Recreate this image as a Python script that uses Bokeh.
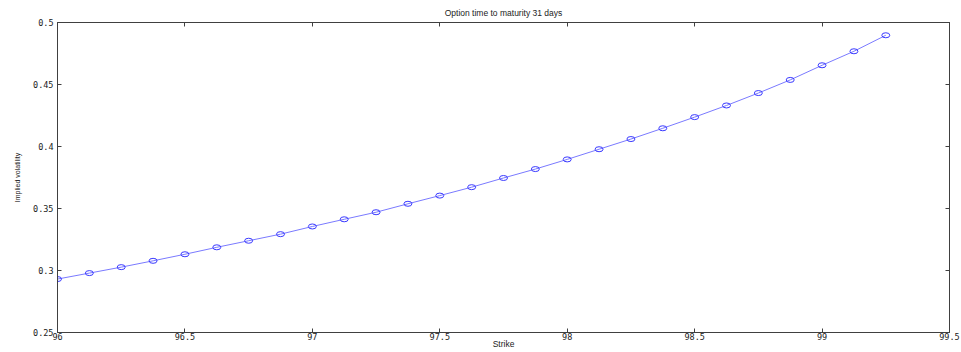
from bokeh.plotting import figure
from bokeh.models import FixedTicker, LinearAxis, Range1d, ColumnDataSource
from bokeh.embed import file_html
from bokeh.resources import INLINE

# Implied volatility smile, option with 31 days to maturity
strikes = [96.0, 96.125, 96.25, 96.375, 96.5, 96.625, 96.75, 96.875,
           97.0, 97.125, 97.25, 97.375, 97.5, 97.625, 97.75, 97.875,
           98.0, 98.125, 98.25, 98.375, 98.5, 98.625, 98.75, 98.875,
           99.0, 99.125, 99.25]
implied_vol = [0.2931, 0.2979, 0.3027, 0.3078, 0.3131, 0.3187, 0.3240, 0.3293,
               0.3355, 0.3413, 0.3470, 0.3538, 0.3604, 0.3672, 0.3746, 0.3818,
               0.3896, 0.3978, 0.4060, 0.4147, 0.4237, 0.4331, 0.4431, 0.4537,
               0.4655, 0.4768, 0.4897]
x_ticks = [96, 96.5, 97, 97.5, 98, 98.5, 99, 99.5]
y_ticks = [0.25, 0.3, 0.35, 0.4, 0.45, 0.5]

TEXT_FONT = "Liberation Sans"
TICK_FONT = "DejaVu Sans Mono"
TEXT_COLOR = "#222222"
AXIS_COLOR = "#404040"

src = ColumnDataSource(dict(x=strikes, y=implied_vol))

p = figure(width=961, height=352, output_backend="svg", toolbar_location=None,
           x_range=Range1d(x_ticks[0], x_ticks[-1]),
           y_range=Range1d(y_ticks[0], y_ticks[-1]),
           min_border_left=57, min_border_right=12, min_border_top=19,
           min_border_bottom=20)
p.background_fill_color = "white"
p.border_fill_color = "white"
p.outline_line_color = AXIS_COLOR
p.grid.visible = False

p.title.text = "Option time to maturity 31 days"
p.title.align = "center"
p.title.text_font = TEXT_FONT
p.title.text_font_size = "8.5px"
p.title.text_font_style = "normal"
p.title.text_color = TEXT_COLOR


def style_axis(ax, ticks, show_labels=True):
    ax.ticker = FixedTicker(ticks=ticks)
    ax.major_tick_in = 4
    ax.major_tick_out = 0
    ax.minor_tick_line_color = None
    ax.axis_line_color = AXIS_COLOR
    ax.major_tick_line_color = AXIS_COLOR
    ax.major_label_text_font = TICK_FONT
    ax.major_label_text_font_size = "8.5px"
    ax.major_label_text_color = TEXT_COLOR if show_labels else None
    if not show_labels:
        ax.major_label_overrides = {t: "" for t in ticks}
    ax.major_label_standoff = 4
    ax.axis_label_text_font = TEXT_FONT
    ax.axis_label_text_font_style = "normal"
    ax.axis_label_text_color = TEXT_COLOR


style_axis(p.xaxis[0], x_ticks)
style_axis(p.yaxis[0], y_ticks)
p.yaxis[0].major_label_orientation = "horizontal"

xax = p.xaxis[0]
xax.major_label_standoff = 0
xax.axis_label = "Strike"
xax.axis_label_text_font_size = "8.5px"
xax.axis_label_standoff = -4

yax = p.yaxis[0]
yax.axis_label = "Implied volatility"
yax.axis_label_text_font_size = "7px"
yax.axis_label_standoff = 9

top = LinearAxis()
right = LinearAxis()
style_axis(top, x_ticks, show_labels=False)
style_axis(right, y_ticks, show_labels=False)
p.add_layout(top, "above")
p.add_layout(right, "right")

p.line("x", "y", source=src, line_color="#7a7aff", line_width=1)
p.ellipse("x", "y", width=8, height=5, width_units="screen", height_units="screen",
          source=src, fill_color=None, line_color="#3a3aff", line_width=1)

open("out.html", "w").write(file_html(p, INLINE))
